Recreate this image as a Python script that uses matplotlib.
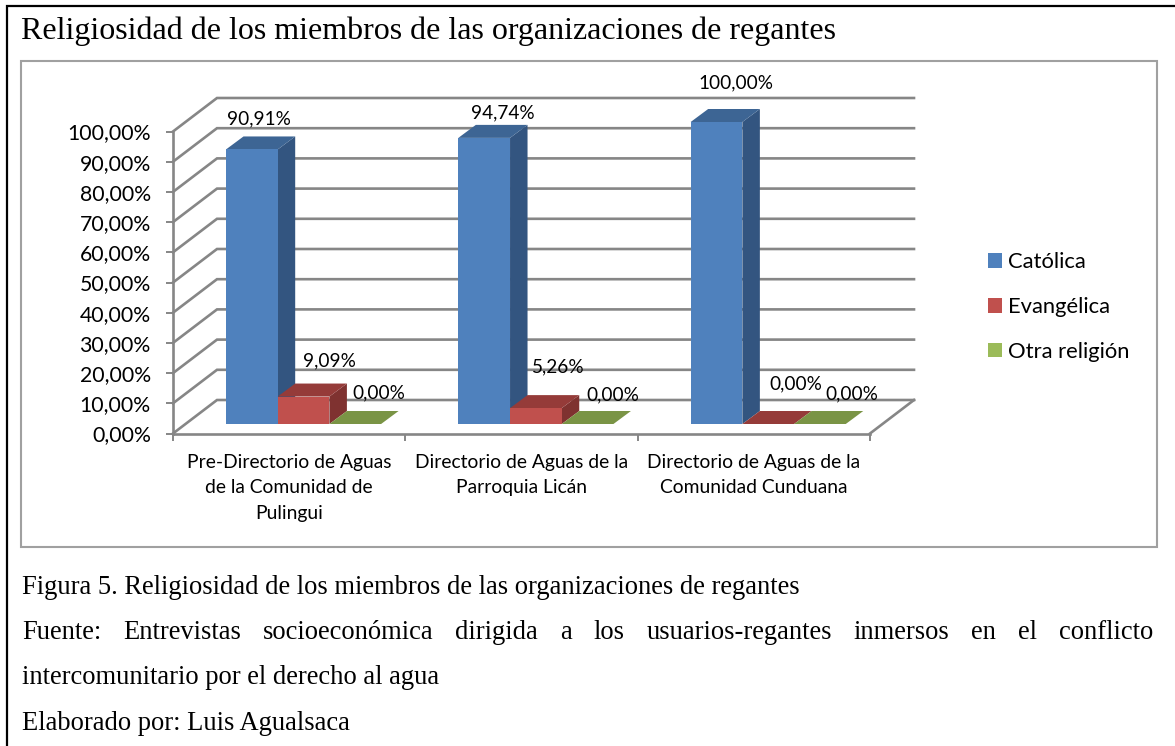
import matplotlib
matplotlib.use("Agg")
import matplotlib.pyplot as plt
from matplotlib.patches import Polygon, Patch, Rectangle

W, H = 1175, 746

categories = ["Pre-Directorio de Aguas\nde la Comunidad de\nPulingui",
              "Directorio de Aguas de la\nParroquia Licán",
              "Directorio de Aguas de la\nComunidad Cunduana"]
catolica = [90.91, 94.74, 100.0]
evangelica = [9.09, 5.26, 0.0]
otra = [0.0, 0.0, 0.0]
series_names = ["Católica", "Evangélica", "Otra religión"]
y_ticks = [0, 10, 20, 30, 40, 50, 60, 70, 80, 90, 100]

title = "Religiosidad de los miembros de las organizaciones de regantes"
caption1 = "Figura 5. Religiosidad de los miembros de las organizaciones de regantes"
caption2 = "Fuente: Entrevistas socioeconómica dirigida a los usuarios-regantes inmersos en el conflicto"
caption3 = "intercomunitario por el derecho al agua"
caption4 = "Elaborado por: Luis Agualsaca"

GRID = "#868686"
front_cols = ["#4F81BD", "#C0504D", "#9BBB59"]
top_cols = ["#3D6594", "#953B39", "#7A9445"]
side_cols = ["#335580", "#7F3230", "#667C3A"]

# axis box in pixels of the picture
X0, X1 = 173, 870
Y0, Y100 = 433.5, 131.5

fig = plt.figure(figsize=(W / 100, H / 100), dpi=100, facecolor="white")

# page layer, in pixels
page = fig.add_axes([0, 0, 1, 1])
page.set_xlim(0, W)
page.set_ylim(H, 0)
page.axis("off")

page.plot([7, 7, 1175], [746, 6, 6], color="black", lw=1.6, solid_joinstyle="miter")
page.add_patch(Rectangle((21, 61), 1136, 486, fc="white", ec="#A0A0A0", lw=1.5))

page.text(21, 39, title, family="Liberation Serif", fontsize=23, color="black", va="baseline")
for txt, yb in [(caption1, 594), (caption3, 684), (caption4, 730)]:
    page.text(22, yb, txt, family="Liberation Serif", fontsize=19.1, color="black", va="baseline")

# justified line, word by word
fig.canvas.draw()
rend = fig.canvas.get_renderer()
words = caption2.split(" ")
arts = [page.text(0, 639, w, family="Liberation Serif", fontsize=19.1, color="black", va="baseline") for w in words]
widths = [a.get_window_extent(rend).width for a in arts]
gap = (1153 - 22 - sum(widths)) / (len(words) - 1)
xpos = 22
for a, wd in zip(arts, widths):
    a.set_x(xpos)
    xpos += wd + gap

# chart layer
ax = fig.add_axes([X0 / W, 1 - Y0 / H, (X1 - X0) / W, (Y0 - Y100) / H])
ax.patch.set_alpha(0)
ax.set_xlim(0, 3)
ax.set_ylim(0, 100)
for s in ["top", "right"]:
    ax.spines[s].set_visible(False)
for s in ["left", "bottom"]:
    ax.spines[s].set_color(GRID)
    ax.spines[s].set_linewidth(1.9)

xu = (X1 - X0) / 3        # pixels per category
yu = (Y0 - Y100) / 100    # pixels per percent
depth_x = 44 / xu
depth_y = 33.5 / yu

for y in y_ticks:
    ax.plot([0, depth_x, 3 + depth_x], [y, y + depth_y, y + depth_y], color=GRID, lw=1.9,
            clip_on=False, zorder=1, solid_joinstyle="miter")
ax.plot([3, 3 + depth_x], [0, depth_y], color=GRID, lw=1.9, clip_on=False, zorder=1)

ax.set_yticks(y_ticks)
ax.set_yticklabels([f"{v:.2f}%".replace(".", ",") for v in y_ticks], family="Lato", fontsize=15.3, color="black")
ax.tick_params(axis="y", length=5, width=1.4, color=GRID, pad=11)
ax.set_xticks([0, 1, 2, 3])
ax.set_xticklabels([])
ax.tick_params(axis="x", length=5, width=1.4, color=GRID)
ax.set_xticks([0.5, 1.5, 2.5], minor=True)
ax.set_xticklabels(categories, minor=True, family="Lato", fontsize=13.9, color="black", linespacing=1.58)
ax.tick_params(axis="x", which="minor", length=0, pad=15)

# bars, fake 3d like the spreadsheet
bar_w = 51.7 / xu
bar_dx = 17.5 / xu
bar_dy = 13 / yu
base_x = 53 / xu
base_y = 9.5 / yu

series = [catolica, evangelica, otra]
for c in range(3):
    for k in range(3):
        v = series[k][c]
        x0 = c + base_x + k * bar_w
        x1 = x0 + bar_w
        b = base_y
        t = base_y + v
        z = 3 + c * 3 + k
        ax.add_patch(Polygon([(x1, b), (x1 + bar_dx, b + bar_dy), (x1 + bar_dx, t + bar_dy), (x1, t)],
                             fc=side_cols[k], ec="none", clip_on=False, zorder=z))
        ax.add_patch(Polygon([(x0, t), (x1, t), (x1 + bar_dx, t + bar_dy), (x0 + bar_dx, t + bar_dy)],
                             fc=top_cols[k], ec="none", clip_on=False, zorder=z))
        ax.add_patch(Polygon([(x0, b), (x1, b), (x1, t), (x0, t)],
                             fc=front_cols[k], ec="none", clip_on=False, zorder=z))

# hand placed data labels: offset in pixels from the top front centre of each bar
label_off = {(0, 0): (7, -31), (1, 0): (19, -25), (2, 0): (19, -39),
             (0, 1): (26, -36), (1, 1): (22, -41), (2, 1): (28, -40),
             (0, 2): (24, -31), (1, 2): (25, -29), (2, 2): (32, -30)}
for (c, k), (ox, oy) in label_off.items():
    v = series[k][c]
    cx = c + base_x + (k + 0.5) * bar_w
    ax.annotate(f"{v:.2f}%".replace(".", ","), xy=(cx, base_y + v), xytext=(ox * 0.72, -oy * 0.72),
                textcoords="offset points", ha="center", va="center", family="Lato", fontsize=13.7,
                color="black", annotation_clip=False, zorder=40)

handles = [Patch(fc=front_cols[i], ec="none") for i in range(3)]
fig.legend(handles, series_names, loc="center left", bbox_to_anchor=(988 / W, 1 - 307 / H), frameon=False,
           prop={"family": "Lato", "size": 15.8}, handlelength=0.64, handleheight=0.64, handletextpad=0.27,
           labelspacing=1.12, borderpad=0, borderaxespad=0)

fig.savefig("out.png", dpi=100)
